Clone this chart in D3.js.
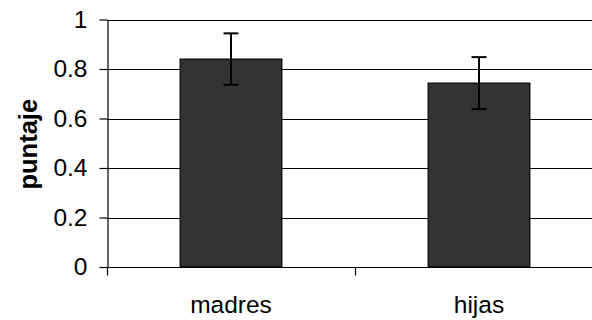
<!DOCTYPE html>
<html>
<head>
<meta charset="utf-8">
<script src="https://cdn.jsdelivr.net/npm/d3@7"></script>
<style>
  html, body { margin: 0; padding: 0; background: #fff; }
  svg { display: block; }
  text { font-family: "Liberation Sans", Arial, sans-serif; }
</style>
</head>
<body>
<svg id="chart" width="592" height="320"></svg>
<script>
const categories = ["madres", "hijas"];
const means = [0.84, 0.743];
const errors = [0.104, 0.105];
const yTicks = [0, 0.2, 0.4, 0.6, 0.8, 1];
const yTickLabels = ["0", "0.2", "0.4", "0.6", "0.8", "1"];
const yTitle = "puntaje";

const svg = d3.select("#chart");
const plotLeft = 107, plotRight = 603, plotTop = 19.5, plotBottom = 267;

const x = d3.scaleBand().domain(categories).range([plotLeft, plotRight]).padding(0);
const y = d3.scaleLinear().domain([0, 1]).range([plotBottom, plotTop]);

// gridlines
svg.append("g").selectAll("line").data(yTicks).join("line")
  .attr("x1", plotLeft).attr("x2", plotRight)
  .attr("y1", d => Math.round(y(d)) + 0.5).attr("y2", d => Math.round(y(d)) + 0.5)
  .attr("stroke", "#000").attr("stroke-width", 1.2);

// bars
const barW = x.bandwidth() * 0.41;
svg.append("g").selectAll("rect").data(categories).join("rect")
  .attr("x", d => x(d) + (x.bandwidth() - barW) / 2)
  .attr("y", (d, i) => y(means[i]))
  .attr("width", barW)
  .attr("height", (d, i) => y(0) - y(means[i]))
  .attr("fill", "#333333")
  .attr("stroke", "#000")
  .attr("stroke-width", 1.2);

// error bars
const eb = svg.append("g").attr("stroke", "#000").attr("stroke-width", 2);
categories.forEach((c, i) => {
  const cx = x(c) + x.bandwidth() / 2;
  const hi = y(means[i] + errors[i]), lo = y(means[i] - errors[i]);
  eb.append("line").attr("x1", cx).attr("x2", cx).attr("y1", hi).attr("y2", lo);
  eb.append("line").attr("x1", cx - 7.5).attr("x2", cx + 7.5).attr("y1", hi).attr("y2", hi);
  eb.append("line").attr("x1", cx - 7.5).attr("x2", cx + 7.5).attr("y1", lo).attr("y2", lo);
});

// y axis
const yAxis = d3.axisLeft(y).tickValues(yTicks)
  .tickFormat((d, i) => yTickLabels[i]).tickSize(8).tickSizeOuter(0).tickPadding(12);
const gy = svg.append("g").attr("transform", `translate(${plotLeft + 0.5},0)`).call(yAxis);
gy.selectAll("path,line").attr("stroke", "#000").attr("stroke-width", 1.2);
gy.selectAll("text").attr("font-size", 24.5).attr("fill", "#000")
  .attr("font-family", '"Liberation Sans", Arial, sans-serif');

// x axis
const gx = svg.append("g").attr("transform", `translate(0,${Math.round(y(0)) + 0.5})`);
gx.append("line").attr("x1", plotLeft).attr("x2", plotRight).attr("stroke", "#000").attr("stroke-width", 1.2);
const boundaries = [plotLeft, ...categories.map(c => x(c) + x.bandwidth())];
gx.selectAll("line.tick").data(boundaries).join("line").attr("class", "tick")
  .attr("x1", d => Math.round(d) + 0.5).attr("x2", d => Math.round(d) + 0.5)
  .attr("y1", 0).attr("y2", 8).attr("stroke", "#000").attr("stroke-width", 1.2);
svg.append("g").selectAll("text").data(categories).join("text")
  .attr("x", d => x(d) + x.bandwidth() / 2)
  .attr("y", 313)
  .attr("text-anchor", "middle")
  .attr("font-size", 24.5)
  .attr("fill", "#000")
  .text(d => d);

// y title
svg.append("text")
  .attr("transform", `translate(36.5,${(plotTop + plotBottom) / 2 + 1}) rotate(-90)`)
  .attr("text-anchor", "middle")
  .attr("font-size", 25.5)
  .attr("font-weight", "bold")
  .attr("fill", "#000")
  .text(yTitle);
</script>
</body>
</html>
